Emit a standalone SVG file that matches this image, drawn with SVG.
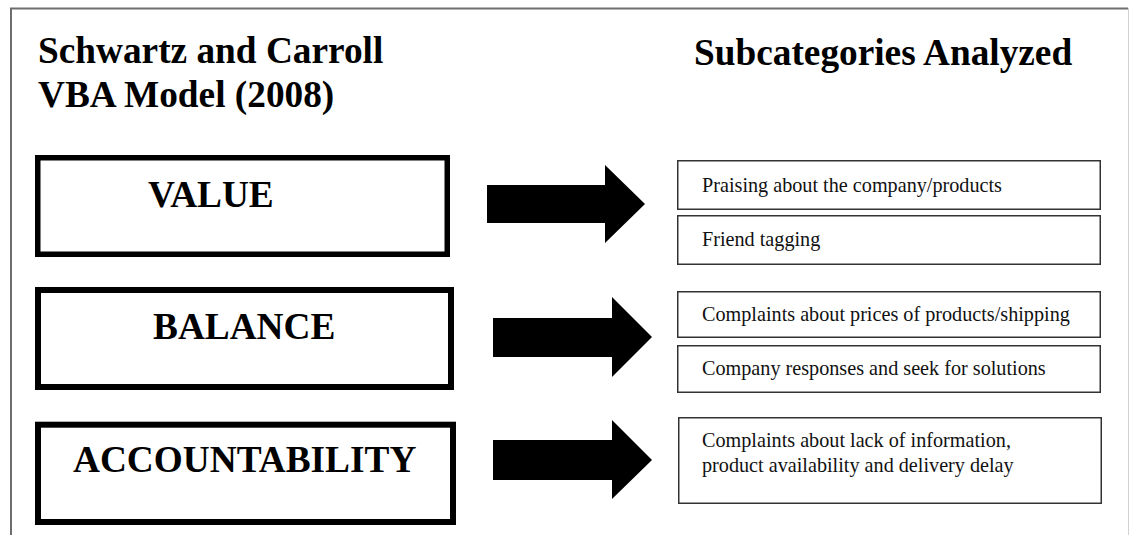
<svg xmlns="http://www.w3.org/2000/svg" width="1130" height="535" viewBox="0 0 1130 535">
<style>
.frame{fill:none;stroke:#6e6e6e;stroke-width:2}
.head{font-family:"Liberation Serif","Times New Roman",serif;font-weight:bold;font-size:37.3px;fill:#000}
.main{fill:#fff;stroke:#000}
.sub{fill:#fff;stroke:#333;stroke-width:1.5}
.subt{font-family:"Liberation Serif","Times New Roman",serif;font-size:20.2px;fill:#111}
.arrow{fill:#000}
</style>
<rect width="1130" height="535" fill="#fff"/>
<path class="frame" d="M11,535 V8.5 H1128"/>
<line x1="1128.5" y1="8" x2="1128.5" y2="535" stroke="#d0d0d0" stroke-width="1"/>
<g id="titles">
<text class="head" x="38" y="63">Schwartz and Carroll</text>
<text class="head" x="38" y="107">VBA Model (2008)</text>
<text class="head" x="694" y="65">Subcategories Analyzed</text>
</g>
<g id="value">
<rect class="main" x="37.75" y="157.75" width="409.5" height="96.5" stroke-width="5.5"/>
<text class="head" x="148" y="207">VALUE</text>
</g>
<g id="balance">
<rect class="main" x="38" y="290" width="413" height="97" stroke-width="6"/>
<text class="head" x="153" y="339">BALANCE</text>
</g>
<g id="accountability">
<rect class="main" x="38" y="424.7" width="415" height="97.3" stroke-width="6"/>
<text class="head" x="73" y="472">ACCOUNTABILITY</text>
</g>
<g id="connectors">
<polygon class="arrow" points="487,185 605,185 605,165 645,204 605,243 605,223 487,223"/>
<polygon class="arrow" points="493,318 612,318 612,297 652,337 612,377 612,357 493,357"/>
<polygon class="arrow" points="493,440 612,440 612,420 652,460 612,499 612,480 493,480"/>
</g>
<g id="praising">
<rect class="sub" x="677.75" y="160.75" width="422.5" height="48.5"/>
<text class="subt" x="702" y="192">Praising about the company/products</text>
</g>
<g id="friend">
<rect class="sub" x="677.75" y="215.75" width="422.5" height="48.5"/>
<text class="subt" x="702" y="246">Friend tagging</text>
</g>
<g id="prices">
<rect class="sub" x="677.75" y="291.75" width="422.5" height="45.5"/>
<text class="subt" x="702" y="321">Complaints about prices of products/shipping</text>
</g>
<g id="responses">
<rect class="sub" x="677.75" y="345.75" width="422.5" height="46.5"/>
<text class="subt" x="702" y="375">Company responses and seek for solutions</text>
</g>
<g id="lack">
<rect class="sub" x="678.75" y="417.75" width="422.5" height="85.5"/>
<text class="subt" x="702" y="447">Complaints about lack of information,</text>
<text class="subt" x="702" y="472">product availability and delivery delay</text>
</g>
</svg>
